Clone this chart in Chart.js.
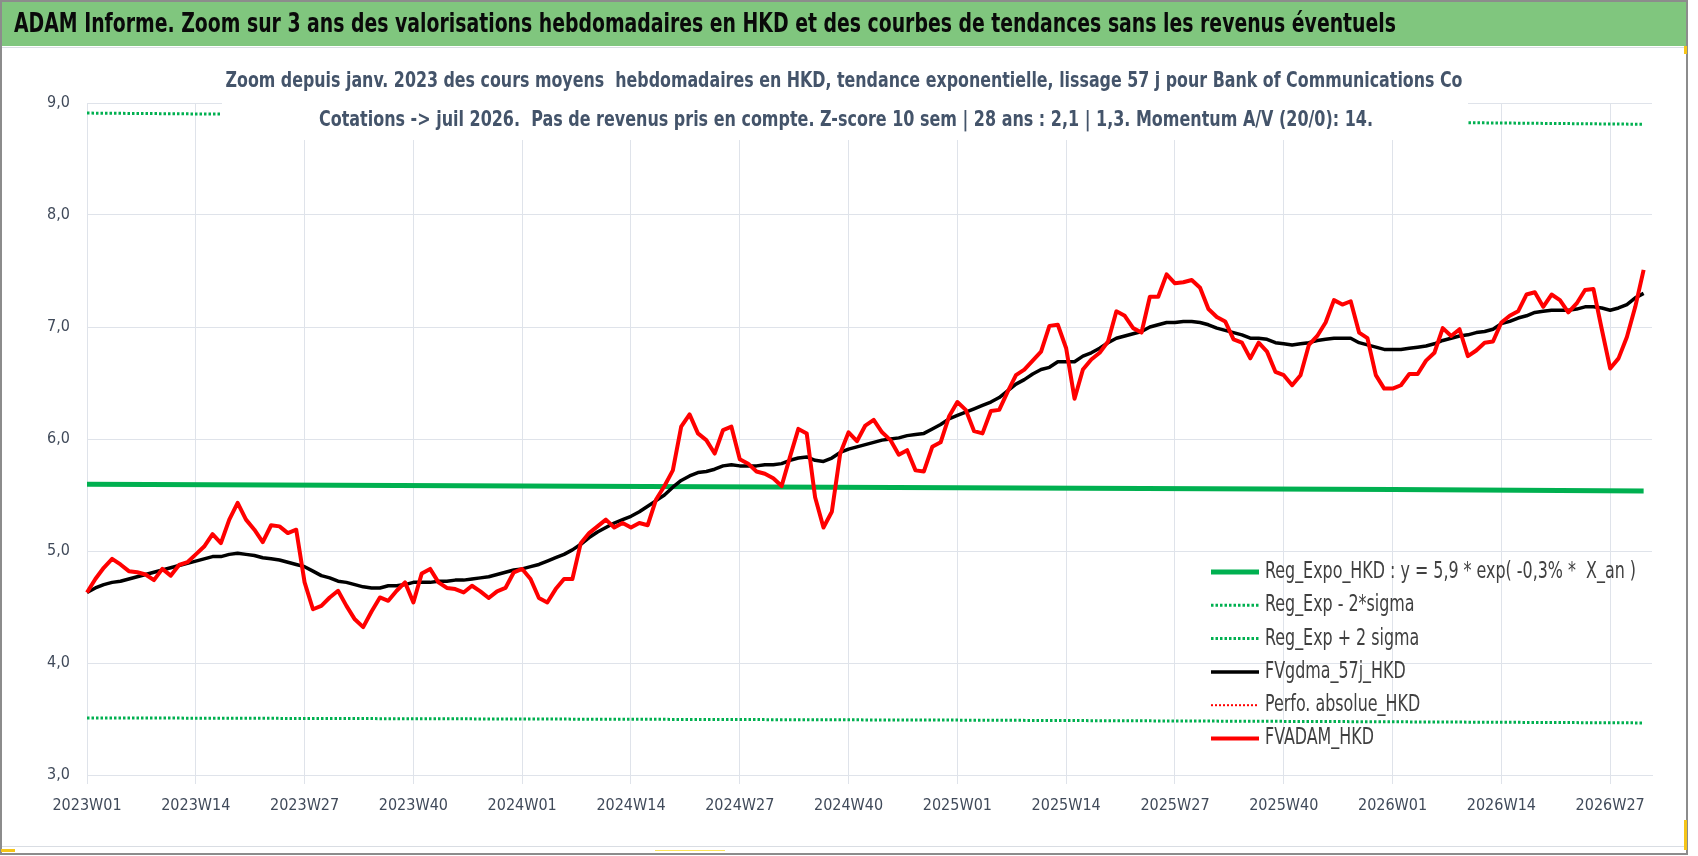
<!DOCTYPE html>
<html>
<head>
<meta charset="utf-8">
<title>ADAM Informe - Bank of Communications Co</title>
<script src="https://cdn.jsdelivr.net/npm/chart.js@4.4.1/dist/chart.umd.min.js"></script>
<style>
    html, body { margin: 0; padding: 0; background: #fff; }
    #wrap { position: relative; width: 1698px; height: 856px; }
    canvas { display: block; }
</style>
</head>
<body>
<div id="wrap"><canvas id="chart" width="1698" height="856"></canvas></div>
<script>
// --- Data ---
const weekYears = [2023, 2024, 2025, 2026];
const weeksPerYear = [52, 52, 52, 32];
const tickEvery = 13;
const yTicks = [3, 4, 5, 6, 7, 8, 9];

// Regression line and its bands: value at a few weeks (nearly straight lines)
const bandWeeks = ['2023W01', '2024W01', '2025W01', '2026W01', '2026W31'];
const regExpo = [5.595, 5.58, 5.565, 5.55, 5.535];
const bandLow = [3.51, 3.50, 3.49, 3.475, 3.465];
const bandHigh = [8.91, 8.88, 8.855, 8.83, 8.81];

// Weekly FVADAM_HKD, 2023W01 .. 2026W31
const fvAdam = [
    4.63, 4.75, 4.85, 4.93, 4.88, 4.82, 4.81, 4.79, 4.74, 4.84,
    4.78, 4.875, 4.90, 4.97, 5.04, 5.15, 5.07, 5.28, 5.43, 5.28,
    5.19, 5.08, 5.23, 5.22, 5.16, 5.19, 4.72, 4.48, 4.51, 4.585,
    4.645, 4.51, 4.39, 4.32, 4.46, 4.585, 4.555, 4.645, 4.72, 4.54,
    4.80, 4.84, 4.72, 4.67, 4.66, 4.63, 4.69, 4.64, 4.58, 4.64,
    4.67, 4.81, 4.84, 4.75, 4.58, 4.54, 4.66, 4.75, 4.75, 5.07,
    5.16, 5.22, 5.28, 5.21, 5.25, 5.21, 5.25, 5.23, 5.46, 5.58,
    5.72, 6.11, 6.22, 6.05, 5.99, 5.87, 6.08, 6.11, 5.82, 5.78,
    5.71, 5.69, 5.65, 5.58, 5.84, 6.09, 6.05, 5.48, 5.21, 5.35,
    5.87, 6.06, 5.98, 6.12, 6.17, 6.06, 5.99, 5.86, 5.90, 5.72,
    5.71, 5.93, 5.97, 6.20, 6.33, 6.26, 6.07, 6.05, 6.25, 6.26,
    6.42, 6.57, 6.62, 6.70, 6.78, 7.01, 7.02, 6.81, 6.36, 6.62,
    6.71, 6.77, 6.87, 7.14, 7.10, 6.99, 6.95, 7.27, 7.27, 7.47,
    7.39, 7.40, 7.42, 7.35, 7.16, 7.09, 7.05, 6.89, 6.86, 6.72,
    6.86, 6.78, 6.60, 6.57, 6.48, 6.57, 6.84, 6.92, 7.04, 7.24,
    7.20, 7.23, 6.95, 6.90, 6.57, 6.45, 6.45, 6.48, 6.58, 6.58,
    6.70, 6.77, 6.99, 6.92, 6.98, 6.74, 6.79, 6.86, 6.87, 7.04,
    7.10, 7.14, 7.29, 7.31, 7.18, 7.29, 7.24, 7.13, 7.21, 7.33,
    7.34, 6.98, 6.63, 6.72, 6.91, 7.18, 7.51
];

// Weekly FVgdma_57j_HKD (smoothed), 2023W01 .. 2026W31
const fvGdma = [
    4.63, 4.67, 4.70, 4.72, 4.73, 4.75, 4.77, 4.79, 4.81, 4.83,
    4.85, 4.87, 4.89, 4.91, 4.93, 4.95, 4.95, 4.97, 4.98, 4.97,
    4.96, 4.94, 4.93, 4.92, 4.90, 4.88, 4.86, 4.82, 4.78, 4.76,
    4.73, 4.72, 4.70, 4.68, 4.67, 4.67, 4.69, 4.69, 4.70, 4.72,
    4.72, 4.72, 4.73, 4.73, 4.74, 4.74, 4.75, 4.76, 4.77, 4.79,
    4.81, 4.83, 4.84, 4.86, 4.88, 4.91, 4.94, 4.97, 5.01, 5.06,
    5.12, 5.17, 5.21, 5.25, 5.28, 5.31, 5.35, 5.40, 5.45, 5.50,
    5.57, 5.63, 5.67, 5.70, 5.71, 5.73, 5.76, 5.77, 5.76, 5.76,
    5.76, 5.77, 5.77, 5.78, 5.81, 5.83, 5.84, 5.81, 5.80, 5.83,
    5.88, 5.91, 5.93, 5.95, 5.97, 5.99, 6.00, 6.01, 6.03, 6.04,
    6.05, 6.09, 6.13, 6.18, 6.21, 6.24, 6.27, 6.30, 6.33, 6.37,
    6.43, 6.49, 6.53, 6.58, 6.62, 6.64, 6.69, 6.69, 6.69, 6.74,
    6.77, 6.81, 6.86, 6.90, 6.92, 6.94, 6.96, 7.00, 7.02, 7.04,
    7.04, 7.05, 7.05, 7.04, 7.02, 6.99, 6.97, 6.95, 6.93, 6.90,
    6.90, 6.89, 6.86, 6.85, 6.84, 6.85, 6.86, 6.88, 6.89, 6.90,
    6.90, 6.90, 6.86, 6.84, 6.82, 6.80, 6.80, 6.80, 6.81, 6.82,
    6.83, 6.85, 6.88, 6.90, 6.92, 6.93, 6.95, 6.96, 6.98, 7.03,
    7.05, 7.08, 7.10, 7.13, 7.14, 7.15, 7.15, 7.15, 7.16, 7.18,
    7.18, 7.17, 7.15, 7.17, 7.20, 7.26, 7.30
];

const titleText = 'ADAM Informe. Zoom sur 3 ans des valorisations hebdomadaires en HKD et des courbes de tendances sans les revenus éventuels';
const subtitleLines = [
    'Zoom depuis janv. 2023 des cours moyens  hebdomadaires en HKD, tendance exponentielle, lissage 57 j pour Bank of Communications Co',
    'Cotations -> juil 2026.  Pas de revenus pris en compte. Z-score 10 sem | 28 ans : 2,1 | 1,3. Momentum A/V (20/0): 14.'
];

// --- Build category labels (ISO weeks) ---
const weekLabels = [];
weekYears.forEach((yr, i) => {
    for (let w = 1; w <= weeksPerYear[i]; w++) {
        weekLabels.push(yr + 'W' + String(w).padStart(2, '0'));
    }
});

const pairs = (values) => bandWeeks.map((wk, i) => ({ x: wk, y: values[i] }));

const FONT = "'Liberation Sans Narrow', 'DejaVu Sans Condensed', 'Roboto Condensed', 'Liberation Sans', sans-serif";
const GREEN = '#00b050';
const GRID = '#dfe3ea';

// Draw text squeezed/stretched to a target width (Excel uses Calibri)
function fitText(ctx, text, x, y, width, align) {
    const w = ctx.measureText(text).width;
    ctx.save();
    ctx.translate(x, y);
    ctx.scale(width / w, 1);
    ctx.textAlign = align;
    ctx.fillText(text, 0, 0);
    ctx.restore();
}

// Subtitle box sits on top of the plot, hiding part of the upper band
const subtitlePlugin = {
    id: 'subtitleBox',
    afterDatasetsDraw(chart) {
        const ctx = chart.ctx;
        ctx.save();
        ctx.fillStyle = '#fff';
        ctx.fillRect(222, 60, 1246, 80);
        ctx.fillStyle = '#44546a';
        ctx.font = 'bold 21px ' + FONT;
        ctx.textBaseline = 'middle';
        fitText(ctx, subtitleLines[0], 844, 82, 1237, 'center');
        fitText(ctx, subtitleLines[1], 846, 121, 1054, 'center');
        ctx.restore();
    }
};

// Header bar, frame and legend inside the plot
const decorPlugin = {
    id: 'decor',
    afterDraw(chart) {
        const ctx = chart.ctx;
        ctx.save();
        // green header
        ctx.fillStyle = '#80c67e';
        ctx.fillRect(2, 2, 1684, 44);
        ctx.fillStyle = '#0a0a0a';
        ctx.font = 'bold 27px ' + FONT;
        ctx.textBaseline = 'middle';
        fitText(ctx, titleText, 14, 25, 1382, 'left');
        ctx.strokeStyle = '#d9dde3';
        ctx.lineWidth = 1;
        ctx.beginPath(); ctx.moveTo(2, 47.5); ctx.lineTo(1686, 47.5); ctx.stroke();
        ctx.beginPath(); ctx.moveTo(2, 846.5); ctx.lineTo(1686, 846.5); ctx.stroke();

        // outer frame
        ctx.strokeStyle = '#8c8c8c';
        ctx.lineWidth = 2;
        ctx.strokeRect(1, 1, 1686, 853);
        ctx.fillStyle = '#f5c518';
        ctx.fillRect(1, 849, 14, 3);
        ctx.fillRect(1684, 46, 3, 8);
        ctx.fillRect(1684, 820, 3, 30);
        ctx.fillStyle = '#fbe45a';
        ctx.fillRect(655, 850, 70, 1);

        // legend
        const rows = [0, 1, 2, 3, 4, 5].map(i => 572 + i * 33.3);
        ctx.font = '23px ' + FONT;
        const sx = 371 / ctx.measureText(chart.data.datasets[0].label).width;
        chart.data.datasets.forEach((ds, i) => {
            const y = rows[i];
            ctx.beginPath();
            ctx.strokeStyle = ds.borderColor;
            ctx.lineWidth = ds.borderWidth;
            ctx.setLineDash(ds.borderDash || []);
            ctx.moveTo(1211, y);
            ctx.lineTo(1259, y);
            ctx.stroke();
            ctx.setLineDash([]);
            ctx.save();
            ctx.translate(1265, y);
            ctx.scale(sx, 1);
            ctx.fillStyle = '#404040';
            ctx.textAlign = 'left';
            ctx.textBaseline = 'middle';
            ctx.fillText(ds.label, 0, 0);
            ctx.restore();
        });
        ctx.restore();
    }
};

const ctx = document.getElementById('chart').getContext('2d');
new Chart(ctx, {
    type: 'line',
    data: {
        labels: weekLabels,
        datasets: [
            {
                label: 'Reg_Expo_HKD : y = 5,9 * exp( -0,3% *  X_an )',
                data: pairs(regExpo),
                borderColor: GREEN, borderWidth: 5, order: 3
            },
            {
                label: 'Reg_Exp - 2*sigma',
                data: pairs(bandLow),
                borderColor: GREEN, borderWidth: 3, borderDash: [2.5, 2], order: 4
            },
            {
                label: 'Reg_Exp + 2 sigma',
                data: pairs(bandHigh),
                borderColor: GREEN, borderWidth: 3, borderDash: [2.5, 2], order: 5
            },
            {
                label: 'FVgdma_57j_HKD',
                data: fvGdma,
                borderColor: '#000000', borderWidth: 3.5, order: 1
            },
            {
                label: 'Perfo. absolue_HKD',
                data: [],
                borderColor: '#ff0000', borderWidth: 2, borderDash: [2, 2], order: 2
            },
            {
                label: 'FVADAM_HKD',
                data: fvAdam,
                borderColor: '#ff0000', borderWidth: 4, order: 0
            }
        ]
    },
    options: {
        responsive: false,
        animation: false,
        devicePixelRatio: 1,
        layout: { padding: { top: 103, right: 46, bottom: 31, left: 0 } },
        elements: {
            point: { radius: 0, hoverRadius: 0 },
            line: { tension: 0, fill: false, borderCapStyle: 'butt', borderJoinStyle: 'round' }
        },
        plugins: {
            legend: { display: false },
            title: { display: false },
            tooltip: { enabled: false }
        },
        scales: {
            x: {
                type: 'category',
                offset: false,
                afterFit: (scale) => { scale.height = 50; },
                grid: { color: GRID, lineWidth: 1, tickLength: 9 },
                border: { color: GRID },
                ticks: {
                    autoSkip: false,
                    maxRotation: 0,
                    padding: 12,
                    color: '#404a5a',
                    font: { family: FONT, size: 16 },
                    callback: function(value, index) {
                        return index % tickEvery === 0 ? this.getLabelForValue(value) : null;
                    }
                }
            },
            y: {
                min: yTicks[0],
                max: yTicks[yTicks.length - 1],
                afterFit: (scale) => { scale.width = 87; },
                afterBuildTicks: (scale) => { scale.ticks = yTicks.map(v => ({ value: v })); },
                grid: { color: GRID, lineWidth: 1, drawTicks: false },
                border: { color: GRID },
                ticks: {
                    padding: 17,
                    color: '#404a5a',
                    font: { family: FONT, size: 16 },
                    callback: (v) => v.toFixed(1).replace('.', ',')
                }
            }
        }
    },
    plugins: [subtitlePlugin, decorPlugin]
});
</script>
</body>
</html>
